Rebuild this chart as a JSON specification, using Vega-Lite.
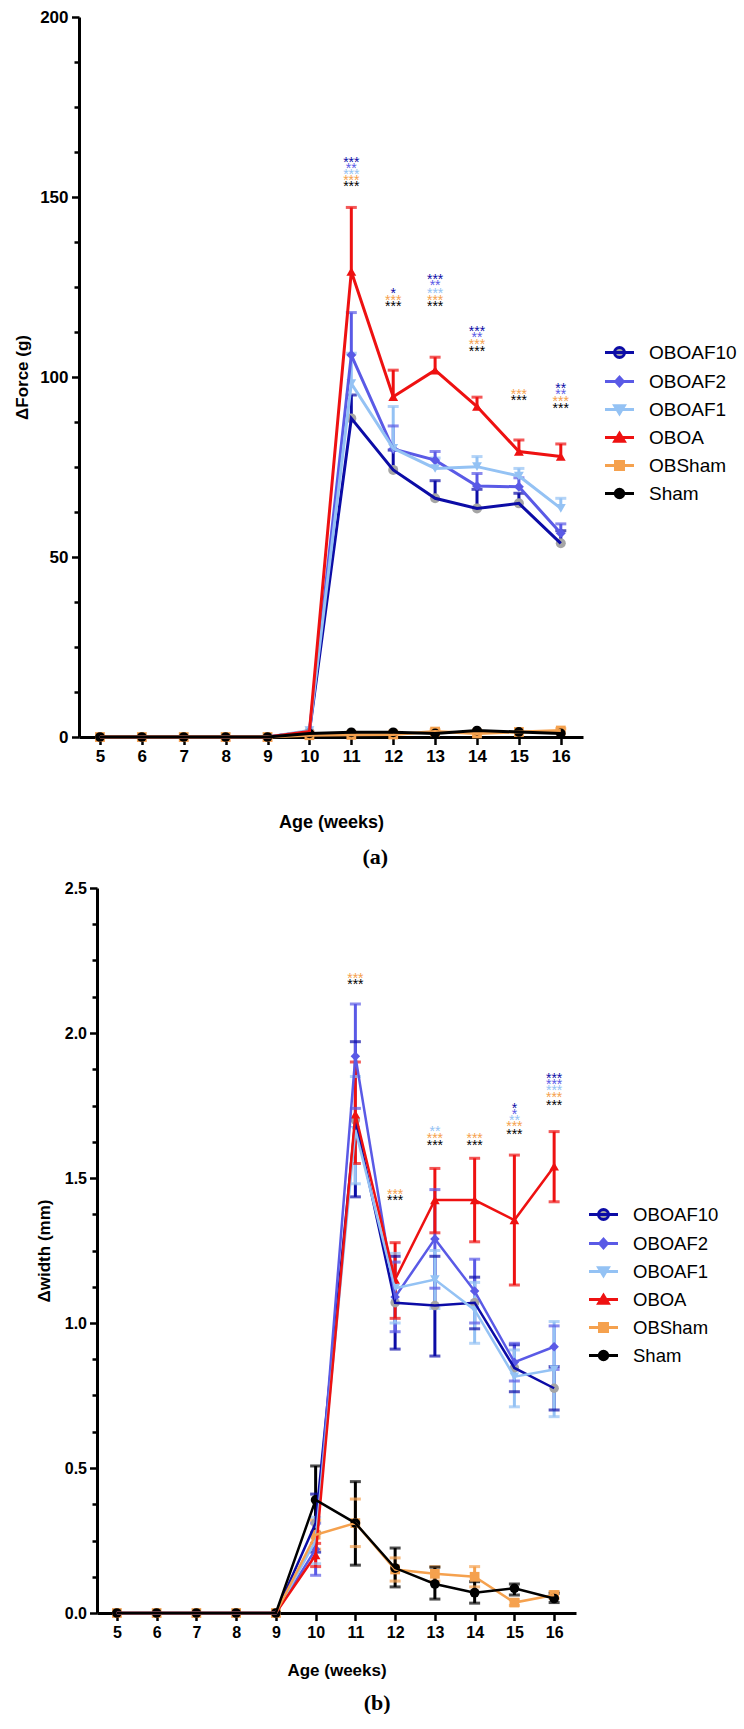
{
  "$schema": "https://vega.github.io/schema/vega-lite/v6.json",
  "background": "white",
  "padding": {"left": 13, "top": 8, "right": 0, "bottom": 0},
  "spacing": 12,
  "center": true,
  "config": {
    "view": {"stroke": null},
    "font": "Liberation Sans",
    "axis": {
      "domainColor": "#000000", "domainWidth": 3, "tickColor": "#000000", "tickWidth": 2.5, "tickSize": 7.5,
      "labelColor": "#000000", "labelFont": "Liberation Sans", "labelFontWeight": "bold",
      "titleFont": "Liberation Sans", "titleFontWeight": "bold", "titleColor": "#000000",
      "grid": false, "labelOverlap": false, "labelFlush": false
    }
  },
  "datasets": {
    "force": [
      {"group": "OBOAF10", "week": 5, "mean": 0}, {"group": "OBOAF10", "week": 6, "mean": 0}, {"group": "OBOAF10", "week": 7, "mean": 0}, {"group": "OBOAF10", "week": 8, "mean": 0}, {"group": "OBOAF10", "week": 9, "mean": 0},
      {"group": "OBOAF10", "week": 10, "mean": 1.5}, {"group": "OBOAF10", "week": 11, "mean": 88.5, "hi": 95}, {"group": "OBOAF10", "week": 12, "mean": 74.2, "hi": 79.7}, {"group": "OBOAF10", "week": 13, "mean": 66.3, "hi": 71.2}, {"group": "OBOAF10", "week": 14, "mean": 63.5, "hi": 68.8}, {"group": "OBOAF10", "week": 15, "mean": 64.9, "hi": 67.7}, {"group": "OBOAF10", "week": 16, "mean": 53.8, "hi": 57.3},
      {"group": "OBOAF2", "week": 5, "mean": 0}, {"group": "OBOAF2", "week": 6, "mean": 0}, {"group": "OBOAF2", "week": 7, "mean": 0}, {"group": "OBOAF2", "week": 8, "mean": 0}, {"group": "OBOAF2", "week": 9, "mean": 0},
      {"group": "OBOAF2", "week": 10, "mean": 1.5}, {"group": "OBOAF2", "week": 11, "mean": 106.1, "hi": 117.9}, {"group": "OBOAF2", "week": 12, "mean": 80.0, "hi": 86.4}, {"group": "OBOAF2", "week": 13, "mean": 76.9, "hi": 79.3}, {"group": "OBOAF2", "week": 14, "mean": 69.7, "hi": 73.2}, {"group": "OBOAF2", "week": 15, "mean": 69.5, "hi": 72.0}, {"group": "OBOAF2", "week": 16, "mean": 56.6, "hi": 59.2},
      {"group": "OBOAF1", "week": 5, "mean": 0}, {"group": "OBOAF1", "week": 6, "mean": 0}, {"group": "OBOAF1", "week": 7, "mean": 0}, {"group": "OBOAF1", "week": 8, "mean": 0}, {"group": "OBOAF1", "week": 9, "mean": 0},
      {"group": "OBOAF1", "week": 10, "mean": 1.8}, {"group": "OBOAF1", "week": 11, "mean": 98.2, "hi": 106.6}, {"group": "OBOAF1", "week": 12, "mean": 80.2, "hi": 91.8}, {"group": "OBOAF1", "week": 13, "mean": 74.6, "hi": 77.5}, {"group": "OBOAF1", "week": 14, "mean": 75.1, "hi": 77.9}, {"group": "OBOAF1", "week": 15, "mean": 72.5, "hi": 74.6}, {"group": "OBOAF1", "week": 16, "mean": 63.5, "hi": 66.3},
      {"group": "OBOA", "week": 5, "mean": 0}, {"group": "OBOA", "week": 6, "mean": 0}, {"group": "OBOA", "week": 7, "mean": 0}, {"group": "OBOA", "week": 8, "mean": 0}, {"group": "OBOA", "week": 9, "mean": 0},
      {"group": "OBOA", "week": 10, "mean": 1.5}, {"group": "OBOA", "week": 11, "mean": 129.3, "hi": 147.1}, {"group": "OBOA", "week": 12, "mean": 94.5, "hi": 101.9}, {"group": "OBOA", "week": 13, "mean": 101.9, "hi": 105.5}, {"group": "OBOA", "week": 14, "mean": 91.8, "hi": 94.4}, {"group": "OBOA", "week": 15, "mean": 79.3, "hi": 82.5}, {"group": "OBOA", "week": 16, "mean": 77.9, "hi": 81.4},
      {"group": "OBSham", "week": 5, "mean": 0}, {"group": "OBSham", "week": 6, "mean": 0}, {"group": "OBSham", "week": 7, "mean": 0}, {"group": "OBSham", "week": 8, "mean": 0}, {"group": "OBSham", "week": 9, "mean": 0},
      {"group": "OBSham", "week": 10, "mean": 0.5}, {"group": "OBSham", "week": 11, "mean": 0.6}, {"group": "OBSham", "week": 12, "mean": 0.7}, {"group": "OBSham", "week": 13, "mean": 1.5, "hi": 2.0}, {"group": "OBSham", "week": 14, "mean": 1.0}, {"group": "OBSham", "week": 15, "mean": 1.4}, {"group": "OBSham", "week": 16, "mean": 1.8, "hi": 2.3},
      {"group": "Sham", "week": 5, "mean": 0}, {"group": "Sham", "week": 6, "mean": 0}, {"group": "Sham", "week": 7, "mean": 0}, {"group": "Sham", "week": 8, "mean": 0}, {"group": "Sham", "week": 9, "mean": 0},
      {"group": "Sham", "week": 10, "mean": 1.0}, {"group": "Sham", "week": 11, "mean": 1.3}, {"group": "Sham", "week": 12, "mean": 1.3}, {"group": "Sham", "week": 13, "mean": 1.0}, {"group": "Sham", "week": 14, "mean": 1.8}, {"group": "Sham", "week": 15, "mean": 1.4}, {"group": "Sham", "week": 16, "mean": 1.0}
    ],
    "forceStars": [
      {"group": "OBOAF10", "week": 11, "y": 160.3, "label": "***"}, {"group": "OBOAF2", "week": 11, "y": 158.6, "label": "**"}, {"group": "OBOAF1", "week": 11, "y": 157.0, "label": "***"}, {"group": "OBSham", "week": 11, "y": 155.4, "label": "***"}, {"group": "Sham", "week": 11, "y": 153.6, "label": "***"},
      {"group": "OBOAF10", "week": 12, "y": 123.9, "label": "*"}, {"group": "OBSham", "week": 12, "y": 122.0, "label": "***"}, {"group": "Sham", "week": 12, "y": 120.3, "label": "***"},
      {"group": "OBOAF10", "week": 13, "y": 127.7, "label": "***"}, {"group": "OBOAF2", "week": 13, "y": 126.0, "label": "**"}, {"group": "OBOAF1", "week": 13, "y": 124.0, "label": "***"}, {"group": "OBSham", "week": 13, "y": 122.0, "label": "***"}, {"group": "Sham", "week": 13, "y": 120.3, "label": "***"},
      {"group": "OBOAF10", "week": 14, "y": 113.3, "label": "***"}, {"group": "OBOAF2", "week": 14, "y": 111.7, "label": "**"}, {"group": "OBSham", "week": 14, "y": 109.7, "label": "***"}, {"group": "Sham", "week": 14, "y": 107.7, "label": "***"},
      {"group": "OBSham", "week": 15, "y": 95.9, "label": "***"}, {"group": "Sham", "week": 15, "y": 94.3, "label": "***"},
      {"group": "OBOAF10", "week": 16, "y": 97.6, "label": "**"}, {"group": "OBOAF2", "week": 16, "y": 95.9, "label": "**"}, {"group": "OBSham", "week": 16, "y": 94.0, "label": "***"}, {"group": "Sham", "week": 16, "y": 91.9, "label": "***"}
    ],
    "width": [
      {"group": "OBOAF10", "week": 5, "mean": 0}, {"group": "OBOAF10", "week": 6, "mean": 0}, {"group": "OBOAF10", "week": 7, "mean": 0}, {"group": "OBOAF10", "week": 8, "mean": 0}, {"group": "OBOAF10", "week": 9, "mean": 0},
      {"group": "OBOAF10", "week": 10, "mean": 0.31, "lo": 0.21, "hi": 0.41}, {"group": "OBOAF10", "week": 11, "mean": 1.70, "lo": 1.435, "hi": 1.97}, {"group": "OBOAF10", "week": 12, "mean": 1.07, "lo": 0.91, "hi": 1.23}, {"group": "OBOAF10", "week": 13, "mean": 1.06, "lo": 0.886, "hi": 1.23}, {"group": "OBOAF10", "week": 14, "mean": 1.07, "lo": 0.98, "hi": 1.158}, {"group": "OBOAF10", "week": 15, "mean": 0.845, "lo": 0.763, "hi": 0.925}, {"group": "OBOAF10", "week": 16, "mean": 0.775, "lo": 0.70, "hi": 0.85},
      {"group": "OBOAF2", "week": 5, "mean": 0}, {"group": "OBOAF2", "week": 6, "mean": 0}, {"group": "OBOAF2", "week": 7, "mean": 0}, {"group": "OBOAF2", "week": 8, "mean": 0}, {"group": "OBOAF2", "week": 9, "mean": 0},
      {"group": "OBOAF2", "week": 10, "mean": 0.22, "lo": 0.13, "hi": 0.31}, {"group": "OBOAF2", "week": 11, "mean": 1.92, "lo": 1.74, "hi": 2.10}, {"group": "OBOAF2", "week": 12, "mean": 1.09, "lo": 0.97, "hi": 1.21}, {"group": "OBOAF2", "week": 13, "mean": 1.29, "lo": 1.12, "hi": 1.46}, {"group": "OBOAF2", "week": 14, "mean": 1.11, "lo": 1.0, "hi": 1.22}, {"group": "OBOAF2", "week": 15, "mean": 0.865, "lo": 0.80, "hi": 0.93}, {"group": "OBOAF2", "week": 16, "mean": 0.918, "lo": 0.84, "hi": 0.99},
      {"group": "OBOAF1", "week": 5, "mean": 0}, {"group": "OBOAF1", "week": 6, "mean": 0}, {"group": "OBOAF1", "week": 7, "mean": 0}, {"group": "OBOAF1", "week": 8, "mean": 0}, {"group": "OBOAF1", "week": 9, "mean": 0},
      {"group": "OBOAF1", "week": 10, "mean": 0.25, "lo": 0.17, "hi": 0.33}, {"group": "OBOAF1", "week": 11, "mean": 1.665, "lo": 1.48, "hi": 1.85}, {"group": "OBOAF1", "week": 12, "mean": 1.12, "lo": 1.0, "hi": 1.24}, {"group": "OBOAF1", "week": 13, "mean": 1.15, "lo": 1.05, "hi": 1.25}, {"group": "OBOAF1", "week": 14, "mean": 1.045, "lo": 0.93, "hi": 1.14}, {"group": "OBOAF1", "week": 15, "mean": 0.815, "lo": 0.711, "hi": 0.907}, {"group": "OBOAF1", "week": 16, "mean": 0.84, "lo": 0.677, "hi": 1.005},
      {"group": "OBOA", "week": 5, "mean": 0}, {"group": "OBOA", "week": 6, "mean": 0}, {"group": "OBOA", "week": 7, "mean": 0}, {"group": "OBOA", "week": 8, "mean": 0}, {"group": "OBOA", "week": 9, "mean": 0},
      {"group": "OBOA", "week": 10, "mean": 0.20, "lo": 0.16, "hi": 0.24}, {"group": "OBOA", "week": 11, "mean": 1.72, "lo": 1.55, "hi": 1.90}, {"group": "OBOA", "week": 12, "mean": 1.15, "lo": 1.016, "hi": 1.277}, {"group": "OBOA", "week": 13, "mean": 1.424, "lo": 1.311, "hi": 1.533}, {"group": "OBOA", "week": 14, "mean": 1.424, "lo": 1.28, "hi": 1.568}, {"group": "OBOA", "week": 15, "mean": 1.355, "lo": 1.131, "hi": 1.579}, {"group": "OBOA", "week": 16, "mean": 1.54, "lo": 1.418, "hi": 1.66},
      {"group": "OBSham", "week": 5, "mean": 0}, {"group": "OBSham", "week": 6, "mean": 0}, {"group": "OBSham", "week": 7, "mean": 0}, {"group": "OBSham", "week": 8, "mean": 0}, {"group": "OBSham", "week": 9, "mean": 0},
      {"group": "OBSham", "week": 10, "mean": 0.27, "lo": 0.22, "hi": 0.32}, {"group": "OBSham", "week": 11, "mean": 0.31, "lo": 0.229, "hi": 0.393}, {"group": "OBSham", "week": 12, "mean": 0.15, "lo": 0.11, "hi": 0.19}, {"group": "OBSham", "week": 13, "mean": 0.135, "lo": 0.11, "hi": 0.16}, {"group": "OBSham", "week": 14, "mean": 0.125, "lo": 0.09, "hi": 0.16}, {"group": "OBSham", "week": 15, "mean": 0.036, "lo": 0.026, "hi": 0.046}, {"group": "OBSham", "week": 16, "mean": 0.062, "lo": 0.05, "hi": 0.074},
      {"group": "Sham", "week": 5, "mean": 0}, {"group": "Sham", "week": 6, "mean": 0}, {"group": "Sham", "week": 7, "mean": 0}, {"group": "Sham", "week": 8, "mean": 0}, {"group": "Sham", "week": 9, "mean": 0},
      {"group": "Sham", "week": 10, "mean": 0.39, "lo": 0.276, "hi": 0.507}, {"group": "Sham", "week": 11, "mean": 0.31, "lo": 0.165, "hi": 0.453}, {"group": "Sham", "week": 12, "mean": 0.155, "lo": 0.09, "hi": 0.224}, {"group": "Sham", "week": 13, "mean": 0.10, "lo": 0.048, "hi": 0.158}, {"group": "Sham", "week": 14, "mean": 0.07, "lo": 0.034, "hi": 0.108}, {"group": "Sham", "week": 15, "mean": 0.085, "lo": 0.062, "hi": 0.10}, {"group": "Sham", "week": 16, "mean": 0.05, "lo": 0.036, "hi": 0.068}
    ],
    "widthStars": [
      {"group": "OBSham", "week": 11, "y": 2.197, "label": "***"}, {"group": "Sham", "week": 11, "y": 2.176, "label": "***"},
      {"group": "OBSham", "week": 12, "y": 1.453, "label": "***"}, {"group": "Sham", "week": 12, "y": 1.43, "label": "***"},
      {"group": "OBOAF1", "week": 13, "y": 1.668, "label": "**"}, {"group": "OBSham", "week": 13, "y": 1.646, "label": "***"}, {"group": "Sham", "week": 13, "y": 1.622, "label": "***"},
      {"group": "OBSham", "week": 14, "y": 1.646, "label": "***"}, {"group": "Sham", "week": 14, "y": 1.622, "label": "***"},
      {"group": "OBOAF10", "week": 15, "y": 1.748, "label": "*"}, {"group": "OBOAF2", "week": 15, "y": 1.726, "label": "*"}, {"group": "OBOAF1", "week": 15, "y": 1.706, "label": "**"}, {"group": "OBSham", "week": 15, "y": 1.685, "label": "***"}, {"group": "Sham", "week": 15, "y": 1.66, "label": "***"},
      {"group": "OBOAF10", "week": 16, "y": 1.852, "label": "***"}, {"group": "OBOAF2", "week": 16, "y": 1.83, "label": "***"}, {"group": "OBOAF1", "week": 16, "y": 1.809, "label": "***"}, {"group": "OBSham", "week": 16, "y": 1.785, "label": "***"}, {"group": "Sham", "week": 16, "y": 1.76, "label": "***"}
    ]
  },
  "resolve": {
    "scale": {"color": "independent", "fill": "independent", "shape": "independent", "opacity": "independent", "size": "independent"},
    "legend": {"color": "independent", "opacity": "independent"}
  },
  "vconcat": [
    {
      "width": 504,
      "height": 720,
      "title": {"text": "(a)", "orient": "bottom", "anchor": "middle", "frame": "bounds", "font": "Liberation Serif", "fontSize": 22, "fontWeight": "bold", "color": "#000000", "offset": 15},
      "resolve": {"axis": {"y": "independent"}},
      "encoding": {
        "x": {
          "field": "week", "type": "quantitative",
          "scale": {"domain": [4.5, 16.53], "nice": false, "zero": false},
          "axis": {"title": "Age (weeks)", "values": [5, 6, 7, 8, 9, 10, 11, 12, 13, 14, 15, 16], "labelFontSize": 17, "labelPadding": 4, "titleFontSize": 18, "titlePadding": 49}
        }
      },
      "layer": [
        {
          "data": {"name": "force"},
          "transform": [{"filter": "isValid(datum.hi)"}],
          "mark": {"type": "rule", "strokeWidth": 3},
          "encoding": {
            "y": {"field": "mean", "type": "quantitative", "scale": {"domain": [0, 200], "nice": false},
                  "axis": {"title": "ΔForce (g)", "values": [0, 50, 100, 150, 200], "labelFontSize": 17, "labelPadding": 3.5, "titleFontSize": 17, "titlePadding": 8}},
            "y2": {"field": "hi"},
            "color": {"field": "group", "type": "nominal", "legend": null, "scale": {"domain": ["Sham", "OBSham", "OBOA", "OBOAF1", "OBOAF2", "OBOAF10"], "range": ["#000000", "#f5a14e", "#ee1111", "#94c2f4", "#5a5ae6", "#0c0ca6"]}}
          }
        },
        {
          "data": {"name": "force"},
          "transform": [{"filter": "isValid(datum.hi)"}],
          "mark": {"type": "tick", "orient": "horizontal", "size": 11, "thickness": 3},
          "encoding": {
            "y": {"field": "hi", "type": "quantitative", "scale": {"domain": [0, 200], "nice": false}, "axis": null},
            "color": {"field": "group", "type": "nominal", "legend": null, "scale": {"domain": ["Sham", "OBSham", "OBOA", "OBOAF1", "OBOAF2", "OBOAF10"], "range": ["#000000", "#f5a14e", "#ee1111", "#94c2f4", "#5a5ae6", "#0c0ca6"]}}
          }
        },
        {
          "data": {"name": "force"},
          "mark": {"type": "point", "filled": true, "opacity": 1, "strokeWidth": 0},
          "encoding": {
            "y": {"field": "mean", "type": "quantitative", "scale": {"domain": [0, 200], "nice": false},
                  "axis": {"orient": "left", "title": null, "labels": false, "domain": false, "tickSize": 5, "values": [12.5, 25, 37.5, 62.5, 75, 87.5, 112.5, 125, 137.5, 162.5, 175, 187.5]}},
            "shape": {"field": "group", "type": "nominal", "legend": null, "scale": {"domain": ["Sham", "OBSham", "OBOA", "OBOAF1", "OBOAF2", "OBOAF10"], "range": ["circle", "square", "triangle-up", "triangle-down", "diamond", "circle"]}},
            "size": {"field": "group", "type": "ordinal", "legend": null, "scale": {"domain": ["Sham", "OBSham", "OBOA", "OBOAF1", "OBOAF2", "OBOAF10"], "range": [95, 100, 150, 150, 110, 170]}},
            "fill": {"field": "group", "type": "nominal", "legend": null, "scale": {"domain": ["Sham", "OBSham", "OBOA", "OBOAF1", "OBOAF2", "OBOAF10"], "range": ["#000000", "#f5a14e", "#ee1111", "#94c2f4", "#5a5ae6", "#a5a5a5"]}}
          }
        },
        {
          "data": {"name": "force"},
          "mark": {"type": "line", "strokeWidth": 3},
          "encoding": {
            "y": {"field": "mean", "type": "quantitative", "scale": {"domain": [0, 200], "nice": false}, "axis": null},
            "color": {"field": "group", "type": "nominal", "legend": null, "scale": {"domain": ["Sham", "OBSham", "OBOA", "OBOAF1", "OBOAF2", "OBOAF10"], "range": ["#000000", "#f5a14e", "#ee1111", "#94c2f4", "#5a5ae6", "#0c0ca6"]}},
            "opacity": {
              "field": "group", "type": "nominal",
              "scale": {"domain": ["OBOAF10", "OBOAF2", "OBOAF1", "OBOA", "OBSham", "Sham"], "range": [1, 1, 1, 1, 1, 1]},
              "legend": {
                "orient": "none", "legendX": 529, "legendY": 324, "title": null,
                "labelFont": "Liberation Sans", "labelColor": "#000000", "labelFontSize": 19,
                "symbolSize": 400, "symbolStrokeWidth": 3, "labelOffset": 18, "rowPadding": 6,
                "encode": {"symbols": {"update": {
                  "shape": {"signal": "datum.value==='OBOAF10' ? 'M-1.45,0H1.45M-0.5,0A0.5,0.5 0 1,0 0.5,0A0.5,0.5 0 1,0 -0.5,0Z' : datum.value==='OBOAF2' ? 'M-1.45,0H1.45M0,-0.42L0.38,0L0,0.42L-0.38,0Z' : datum.value==='OBOAF1' ? 'M-1.45,0H1.45M-0.48,-0.38L0.48,-0.38L0,0.42Z' : datum.value==='OBOA' ? 'M-1.45,0H1.45M-0.48,0.38L0.48,0.38L0,-0.42Z' : datum.value==='OBSham' ? 'M-1.45,0H1.45M-0.4,-0.4H0.4V0.4H-0.4Z' : 'M-1.45,0H1.45M-0.42,0A0.42,0.42 0 1,0 0.42,0A0.42,0.42 0 1,0 -0.42,0Z'"},
                  "fill": {"signal": "datum.value==='OBOAF10' ? '#a5a5a5' : datum.value==='OBOAF2' ? '#5a5ae6' : datum.value==='OBOAF1' ? '#94c2f4' : datum.value==='OBOA' ? '#ee1111' : datum.value==='OBSham' ? '#f5a14e' : '#000000'"},
                  "stroke": {"signal": "datum.value==='OBOAF10' ? '#0c0ca6' : datum.value==='OBOAF2' ? '#5a5ae6' : datum.value==='OBOAF1' ? '#94c2f4' : datum.value==='OBOA' ? '#ee1111' : datum.value==='OBSham' ? '#f5a14e' : '#000000'"},
                  "strokeWidth": {"value": 3},
                  "fillOpacity": {"value": 1},
                  "strokeOpacity": {"value": 1}
                }}}
              }
            }
          }
        },
        {
          "data": {"name": "forceStars"},
          "mark": {"type": "text", "fontSize": 14, "font": "Liberation Sans", "baseline": "middle", "align": "center", "dy": 3},
          "encoding": {
            "y": {"field": "y", "type": "quantitative", "scale": {"domain": [0, 200], "nice": false}, "axis": null},
            "text": {"field": "label"},
            "color": {"field": "group", "type": "nominal", "legend": null, "scale": {"domain": ["Sham", "OBSham", "OBOA", "OBOAF1", "OBOAF2", "OBOAF10"], "range": ["#000000", "#f5a14e", "#ee1111", "#94c2f4", "#5a5ae6", "#0c0ca6"]}}
          }
        }
      ]
    },
    {
      "width": 479,
      "height": 725,
      "title": {"text": "(b)", "orient": "bottom", "anchor": "middle", "frame": "bounds", "font": "Liberation Serif", "fontSize": 22, "fontWeight": "bold", "color": "#000000", "offset": 14},
      "resolve": {"axis": {"y": "independent"}},
      "encoding": {
        "x": {
          "field": "week", "type": "quantitative",
          "scale": {"domain": [4.5, 16.55], "nice": false, "zero": false},
          "axis": {"title": "Age (weeks)", "values": [5, 6, 7, 8, 9, 10, 11, 12, 13, 14, 15, 16], "labelFontSize": 16, "labelPadding": 4, "titleFontSize": 17, "titlePadding": 22}
        }
      },
      "layer": [
        {
          "data": {"name": "width"},
          "transform": [{"filter": "isValid(datum.hi)"}],
          "mark": {"type": "rule", "strokeWidth": 3},
          "encoding": {
            "y": {"field": "lo", "type": "quantitative", "scale": {"domain": [0, 2.5], "nice": false},
                  "axis": {"title": "Δwidth (mm)", "values": [0, 0.5, 1, 1.5, 2, 2.5], "format": ".1f", "labelFontSize": 16, "labelPadding": 3, "titleFontSize": 17, "titlePadding": 11}},
            "y2": {"field": "hi"},
            "color": {"field": "group", "type": "nominal", "legend": null, "scale": {"domain": ["Sham", "OBSham", "OBOA", "OBOAF1", "OBOAF2", "OBOAF10"], "range": ["#000000", "#f5a14e", "#ee1111", "#94c2f4", "#5a5ae6", "#0c0ca6"]}}
          }
        },
        {
          "data": {"name": "width"},
          "transform": [{"filter": "isValid(datum.hi)"}],
          "mark": {"type": "tick", "orient": "horizontal", "size": 11, "thickness": 3},
          "encoding": {
            "y": {"field": "hi", "type": "quantitative", "scale": {"domain": [0, 2.5], "nice": false}, "axis": null},
            "color": {"field": "group", "type": "nominal", "legend": null, "scale": {"domain": ["Sham", "OBSham", "OBOA", "OBOAF1", "OBOAF2", "OBOAF10"], "range": ["#000000", "#f5a14e", "#ee1111", "#94c2f4", "#5a5ae6", "#0c0ca6"]}}
          }
        },
        {
          "data": {"name": "width"},
          "transform": [{"filter": "isValid(datum.lo)"}],
          "mark": {"type": "tick", "orient": "horizontal", "size": 11, "thickness": 3},
          "encoding": {
            "y": {"field": "lo", "type": "quantitative", "scale": {"domain": [0, 2.5], "nice": false}, "axis": null},
            "color": {"field": "group", "type": "nominal", "legend": null, "scale": {"domain": ["Sham", "OBSham", "OBOA", "OBOAF1", "OBOAF2", "OBOAF10"], "range": ["#000000", "#f5a14e", "#ee1111", "#94c2f4", "#5a5ae6", "#0c0ca6"]}}
          }
        },
        {
          "data": {"name": "width"},
          "mark": {"type": "point", "filled": true, "opacity": 1, "strokeWidth": 0},
          "encoding": {
            "y": {"field": "mean", "type": "quantitative", "scale": {"domain": [0, 2.5], "nice": false},
                  "axis": {"orient": "left", "title": null, "labels": false, "domain": false, "tickSize": 5, "values": [0.125, 0.25, 0.375, 0.625, 0.75, 0.875, 1.125, 1.25, 1.375, 1.625, 1.75, 1.875, 2.125, 2.25, 2.375]}},
            "shape": {"field": "group", "type": "nominal", "legend": null, "scale": {"domain": ["Sham", "OBSham", "OBOA", "OBOAF1", "OBOAF2", "OBOAF10"], "range": ["circle", "square", "triangle-up", "triangle-down", "diamond", "circle"]}},
            "size": {"field": "group", "type": "ordinal", "legend": null, "scale": {"domain": ["Sham", "OBSham", "OBOA", "OBOAF1", "OBOAF2", "OBOAF10"], "range": [95, 90, 120, 110, 80, 160]}},
            "fill": {"field": "group", "type": "nominal", "legend": null, "scale": {"domain": ["Sham", "OBSham", "OBOA", "OBOAF1", "OBOAF2", "OBOAF10"], "range": ["#000000", "#f5a14e", "#ee1111", "#94c2f4", "#5a5ae6", "#a5a5a5"]}}
          }
        },
        {
          "data": {"name": "width"},
          "mark": {"type": "line", "strokeWidth": 2.5},
          "encoding": {
            "y": {"field": "mean", "type": "quantitative", "scale": {"domain": [0, 2.5], "nice": false}, "axis": null},
            "color": {"field": "group", "type": "nominal", "legend": null, "scale": {"domain": ["Sham", "OBSham", "OBOA", "OBOAF1", "OBOAF2", "OBOAF10"], "range": ["#000000", "#f5a14e", "#ee1111", "#94c2f4", "#5a5ae6", "#0c0ca6"]}},
            "opacity": {
              "field": "group", "type": "nominal",
              "scale": {"domain": ["OBOAF10", "OBOAF2", "OBOAF1", "OBOA", "OBSham", "Sham"], "range": [1, 1, 1, 1, 1, 1]},
              "legend": {
                "orient": "none", "legendX": 495, "legendY": 315, "title": null,
                "labelFont": "Liberation Sans", "labelColor": "#000000", "labelFontSize": 18.5,
                "symbolSize": 400, "symbolStrokeWidth": 3, "labelOffset": 18, "rowPadding": 6,
                "encode": {"symbols": {"update": {
                  "shape": {"signal": "datum.value==='OBOAF10' ? 'M-1.45,0H1.45M-0.5,0A0.5,0.5 0 1,0 0.5,0A0.5,0.5 0 1,0 -0.5,0Z' : datum.value==='OBOAF2' ? 'M-1.45,0H1.45M0,-0.42L0.38,0L0,0.42L-0.38,0Z' : datum.value==='OBOAF1' ? 'M-1.45,0H1.45M-0.48,-0.38L0.48,-0.38L0,0.42Z' : datum.value==='OBOA' ? 'M-1.45,0H1.45M-0.48,0.38L0.48,0.38L0,-0.42Z' : datum.value==='OBSham' ? 'M-1.45,0H1.45M-0.4,-0.4H0.4V0.4H-0.4Z' : 'M-1.45,0H1.45M-0.42,0A0.42,0.42 0 1,0 0.42,0A0.42,0.42 0 1,0 -0.42,0Z'"},
                  "fill": {"signal": "datum.value==='OBOAF10' ? '#a5a5a5' : datum.value==='OBOAF2' ? '#5a5ae6' : datum.value==='OBOAF1' ? '#94c2f4' : datum.value==='OBOA' ? '#ee1111' : datum.value==='OBSham' ? '#f5a14e' : '#000000'"},
                  "stroke": {"signal": "datum.value==='OBOAF10' ? '#0c0ca6' : datum.value==='OBOAF2' ? '#5a5ae6' : datum.value==='OBOAF1' ? '#94c2f4' : datum.value==='OBOA' ? '#ee1111' : datum.value==='OBSham' ? '#f5a14e' : '#000000'"},
                  "strokeWidth": {"value": 3},
                  "fillOpacity": {"value": 1},
                  "strokeOpacity": {"value": 1}
                }}}
              }
            }
          }
        },
        {
          "data": {"name": "widthStars"},
          "mark": {"type": "text", "fontSize": 14, "font": "Liberation Sans", "baseline": "middle", "align": "center", "dy": 3},
          "encoding": {
            "y": {"field": "y", "type": "quantitative", "scale": {"domain": [0, 2.5], "nice": false}, "axis": null},
            "text": {"field": "label"},
            "color": {"field": "group", "type": "nominal", "legend": null, "scale": {"domain": ["Sham", "OBSham", "OBOA", "OBOAF1", "OBOAF2", "OBOAF10"], "range": ["#000000", "#f5a14e", "#ee1111", "#94c2f4", "#5a5ae6", "#0c0ca6"]}}
          }
        }
      ]
    }
  ]
}
